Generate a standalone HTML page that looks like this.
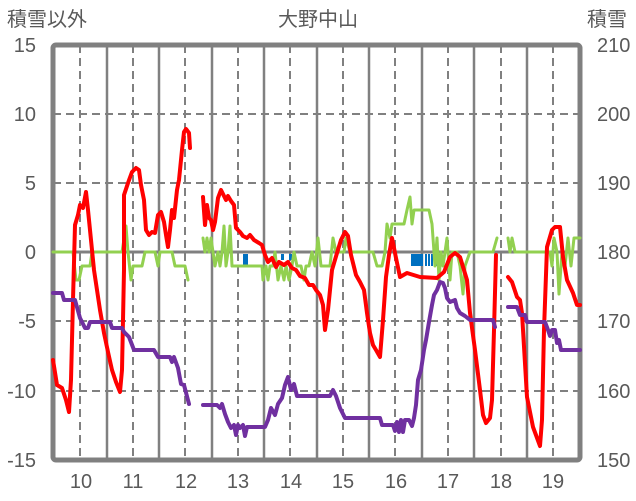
<!DOCTYPE html>
<html><head><meta charset="utf-8"><style>
html,body{margin:0;padding:0;background:#fff}
svg{display:block}
text{font-family:"Liberation Sans","Noto Sans CJK JP",sans-serif;fill:#595959}
</style></head><body>
<svg width="636" height="501" viewBox="0 0 636 501" xmlns="http://www.w3.org/2000/svg">
<g stroke="#808080" stroke-width="2" stroke-dasharray="8,5">
<line x1="53" y1="114" x2="580" y2="114"/>
<line x1="53" y1="183" x2="580" y2="183"/>
<line x1="53" y1="321" x2="580" y2="321"/>
<line x1="53" y1="391" x2="580" y2="391"/>
<line x1="80" y1="45" x2="80" y2="460"/>
<line x1="133" y1="45" x2="133" y2="460"/>
<line x1="185" y1="45" x2="185" y2="460"/>
<line x1="238" y1="45" x2="238" y2="460"/>
<line x1="290" y1="45" x2="290" y2="460"/>
<line x1="343" y1="45" x2="343" y2="460"/>
<line x1="395" y1="45" x2="395" y2="460"/>
<line x1="448" y1="45" x2="448" y2="460"/>
<line x1="501" y1="45" x2="501" y2="460"/>
<line x1="553" y1="45" x2="553" y2="460"/>
</g>
<g stroke="#808080" stroke-width="2.5">
<line x1="107" y1="45" x2="107" y2="460"/>
<line x1="159" y1="45" x2="159" y2="460"/>
<line x1="212" y1="45" x2="212" y2="460"/>
<line x1="264" y1="45" x2="264" y2="460"/>
<line x1="317" y1="45" x2="317" y2="460"/>
<line x1="369" y1="45" x2="369" y2="460"/>
<line x1="422" y1="45" x2="422" y2="460"/>
<line x1="474" y1="45" x2="474" y2="460"/>
<line x1="527" y1="45" x2="527" y2="460"/>
<line x1="53" y1="252" x2="580" y2="252" stroke-width="3"/>
</g>
<rect x="53" y="45" width="527" height="415" fill="none" stroke="#808080" stroke-width="5" rx="3"/>
<g fill="#0070c0">
<rect x="243" y="254" width="5" height="11"/>
<rect x="281" y="254" width="3" height="6"/>
<rect x="289" y="254" width="3" height="6"/>
<rect x="411" y="254" width="12" height="12"/>
<rect x="425" y="254" width="2" height="12"/>
<rect x="428" y="254" width="2" height="12"/>
<rect x="431" y="254" width="2" height="12"/>
<rect x="435" y="254" width="5" height="12"/>
</g>
<g fill="none" stroke-width="4" stroke-linejoin="round" stroke-linecap="round">
<g stroke="#92d050" stroke-width="3">
<polyline points="53,252 73,252 76,280 79,280 82,266 90,266 92,252 122,252 126,226 128,252 131,280 133,266 142,266 145,252 155,252 158,266 160,252 172,252 175,266 185,266 188,280"/>
<polyline points="203,238 205,252 207,238 209,252 211,238 213,252 215,266 218,252 220,266 222,252 224,226 226,266 228,252 230,226 232,266 236,266 245,266 262,266 263,280 266,266 268,280 270,266 273,266 275,252 278,280 281,266 284,280 286,266 289,280 292,266 294,252 297,266 301,266 304,280 306,266 309,266 312,252 315,266 318,238 321,266 330,266 333,238 336,252 344,252 346,238 350,252 373,252 377,266 382,266 385,252 387,224 390,238 392,224 404,224 407,210 410,197 412,224 414,210 429,210 432,224 435,266 437,238 439,280 441,252 443,266 445,252 447,238 450,280 452,252 457,252 460,266 463,294 465,266 470,252 493,252 497,238"/>
<polyline points="508,238 510,252 512,238 515,252 550,252 552,266 554,238 557,252 559,294 562,252 565,266 568,238 571,266 574,238 580,238"/>
</g>
<g stroke="#ff0000">
<polyline points="53,360 57,385 62,388 66,400 69,412 71,380 73,300 75,225 78,215 80,205 83,208 86,192 88,210 91,240 94,270 97,290 100,310 104,333 108,352 112,370 116,382 120,392 122,370 124,270 124,195 128,183 132,172 136,168 139,170 141,185 144,200 146,230 149,235 152,232 155,233 158,215 161,212 164,222 166,235 168,247 170,230 172,210 174,218 177,190 179,180 182,150 184,132 186,129 189,133 190,148"/>
<polyline points="203,197 205,225 207,205 209,218 211,220 213,230 215,222 218,198 221,190 224,196 226,200 228,196 231,201 234,205 236,228 240,232 243,236 247,238 250,235 254,240 259,243 262,245 265,255 268,262 272,258 276,267 279,262 284,265 288,262 292,268 296,270 300,276 305,278 309,285 313,285 316,290 320,295 323,305 325,330 328,310 332,270 337,253 341,240 345,232 348,236 351,255 356,275 360,282 364,290 367,313 370,333 373,345 376,350 380,357 383,320 386,277 389,255 392,238 396,258 400,277 407,273 420,277 437,278 444,272 450,257 455,253 460,257 467,280 470,313 475,350 480,390 483,415 486,423 490,418 492,400 494,330 496,255"/>
<polyline points="508,277 512,282 517,297 520,300 522,313 527,397 533,427 540,446 542,420 544,330 547,247 552,230 555,227 560,227 563,257 567,280 573,293 577,305 580,305"/>
</g>
<g stroke="#7030a0">
<polyline points="53,293 62,293 64,300 75,300 80,318 85,328 88,328 90,322 110,322 112,328 122,328 124,332 129,337 134,350 154,350 158,357 170,357 172,362 174,357 178,368 181,384 184,385 189,404"/>
<polyline points="203,405 217,405 220,408 222,404 225,414 228,422 231,428 234,425 236,435 238,425 240,428 243,425 245,436 247,427 250,427 265,427 268,420 271,408 275,415 278,404 282,398 285,385 288,377 291,390 294,384 297,396 330,396 333,390 336,396 340,408 345,418 380,418 382,425 393,425 395,431 397,422 399,432 401,420 403,432 405,420 409,420 412,426 414,418 416,405 418,380 421,370 424,350 426,340 429,322 432,305 434,295 437,290 440,282 443,283 445,288 447,298 450,302 455,300 457,308 460,313 465,316 470,320 493,320 495,327"/>
<polyline points="508,307 517,307 520,315 525,315 527,322 545,322 548,330 550,336 552,330 555,330 557,343 559,340 561,350 580,350"/>
</g>
</g>
<g font-size="20">
<text x="7" y="26">積雪以外</text>
<text x="318" y="26" text-anchor="middle">大野中山</text>
<text x="587" y="26">積雪</text>
</g>
<g font-size="20" text-anchor="end">
<text x="36" y="52">15</text>
<text x="36" y="121">10</text>
<text x="36" y="190">5</text>
<text x="36" y="259">0</text>
<text x="36" y="328">-5</text>
<text x="36" y="398">-10</text>
<text x="36" y="467">-15</text>
</g>
<g font-size="20">
<text x="597" y="52">210</text>
<text x="597" y="121">200</text>
<text x="597" y="190">190</text>
<text x="597" y="259">180</text>
<text x="597" y="328">170</text>
<text x="597" y="398">160</text>
<text x="597" y="467">150</text>
</g>
<g font-size="20" text-anchor="middle">
<text x="81" y="488">10</text>
<text x="133" y="488">11</text>
<text x="186" y="488">12</text>
<text x="238" y="488">13</text>
<text x="291" y="488">14</text>
<text x="343" y="488">15</text>
<text x="396" y="488">16</text>
<text x="448" y="488">17</text>
<text x="501" y="488">18</text>
<text x="553" y="488">19</text>
</g>
</svg>
</body></html>
